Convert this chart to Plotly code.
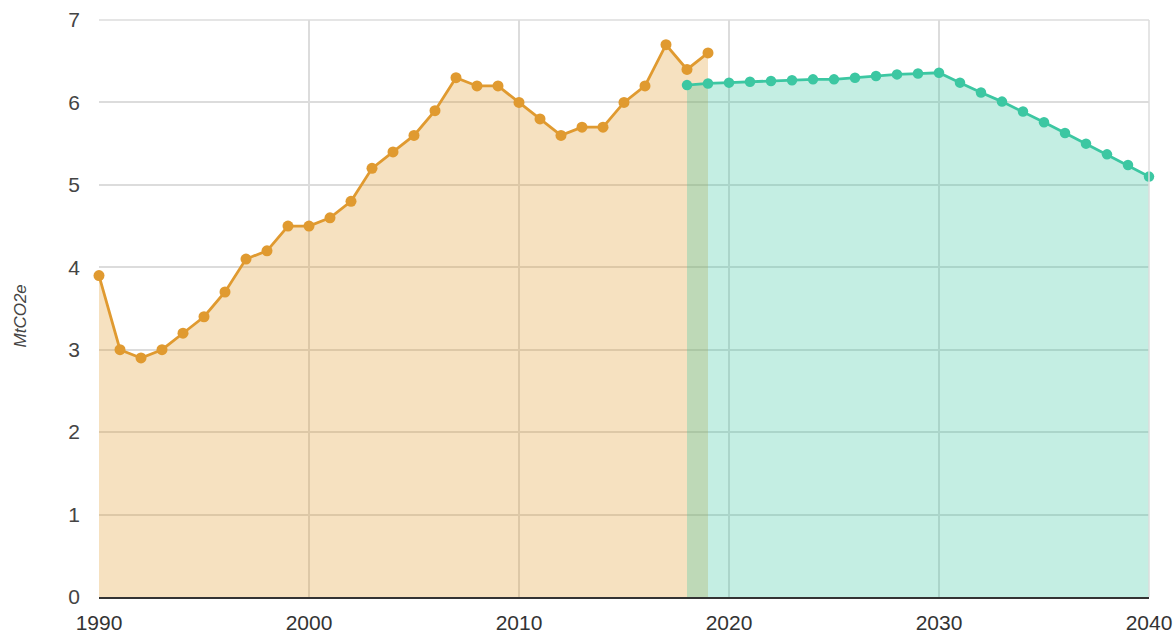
import plotly.graph_objects as go

hist_years = list(range(1990, 2020))
hist_values = [3.9, 3.0, 2.9, 3.0, 3.2, 3.4, 3.7, 4.1, 4.2, 4.5,
               4.5, 4.6, 4.8, 5.2, 5.4, 5.6, 5.9, 6.3, 6.2, 6.2,
               6.0, 5.8, 5.6, 5.7, 5.7, 6.0, 6.2, 6.7, 6.4, 6.6]

proj_years = list(range(2018, 2041))
proj_values = [6.21, 6.23, 6.24, 6.25, 6.26, 6.27, 6.28, 6.28, 6.30, 6.32,
               6.34, 6.35, 6.36, 6.24, 6.12, 6.01, 5.89, 5.76, 5.63, 5.50,
               5.37, 5.24, 5.10]

x_ticks = [1990, 2000, 2010, 2020, 2030, 2040]
y_ticks = [0, 1, 2, 3, 4, 5, 6, 7]
y_title = "MtCO2e"

fig = go.Figure()
fig.add_trace(go.Scatter(
    x=hist_years, y=hist_values, mode="lines+markers",
    line=dict(color="#e09a30", width=2.8),
    marker=dict(color="#e09a30", size=11),
    fill="tozeroy", fillcolor="rgba(224,154,48,0.3)",
    showlegend=False, cliponaxis=False,
))
fig.add_trace(go.Scatter(
    x=proj_years, y=proj_values, mode="lines+markers",
    line=dict(color="#3cc7a2", width=2.8),
    marker=dict(color="#3cc7a2", size=10.5),
    fill="tozeroy", fillcolor="rgba(60,199,162,0.3)",
    showlegend=False, cliponaxis=False,
))

font = "Liberation Sans, Arial, sans-serif"
fig.update_layout(
    width=1176, height=635,
    margin=dict(l=99, r=27, t=20, b=38, autoexpand=False),
    paper_bgcolor="white", plot_bgcolor="white",
    font=dict(family=font, size=21, color="#444"),
    xaxis=dict(
        range=[1990, 2040], tickvals=x_ticks, ticktext=[str(t) for t in x_ticks],
        showgrid=True, gridcolor="#dcdcdc", gridwidth=1.5,
        showline=True, linecolor="#333", linewidth=2,
        mirror=False, zeroline=False, ticks="", ticklen=0,
        ticklabelstandoff=6, automargin=False,
        tickfont=dict(size=21, color="#333"),
    ),
    yaxis=dict(
        range=[0, 7], tickvals=y_ticks,
        showgrid=True, gridcolor="#dcdcdc", gridwidth=1.5,
        showline=False, zeroline=False, ticks="",
        ticklabelstandoff=18, automargin=False,
        tickfont=dict(size=21, color="#444"),
    ),
)
fig.add_annotation(
    text="<i>" + y_title + "</i>", xref="paper", yref="paper",
    x=0, y=0.5, xshift=-79, yshift=-8, textangle=-90,
    showarrow=False, xanchor="center", yanchor="middle",
    font=dict(family=font, size=17, color="#444"),
)
fig.add_shape(type="line", xref="paper", yref="paper", x0=0, x1=1, y0=1, y1=1,
              line=dict(color="#dcdcdc", width=1.5))
fig.add_shape(type="line", xref="paper", yref="paper", x0=1, x1=1, y0=0, y1=1,
              line=dict(color="#dcdcdc", width=1.5))

fig.write_html("out.html", config={"displayModeBar": False},
               post_script="document.body.style.margin='0';document.body.style.overflow='hidden';")
